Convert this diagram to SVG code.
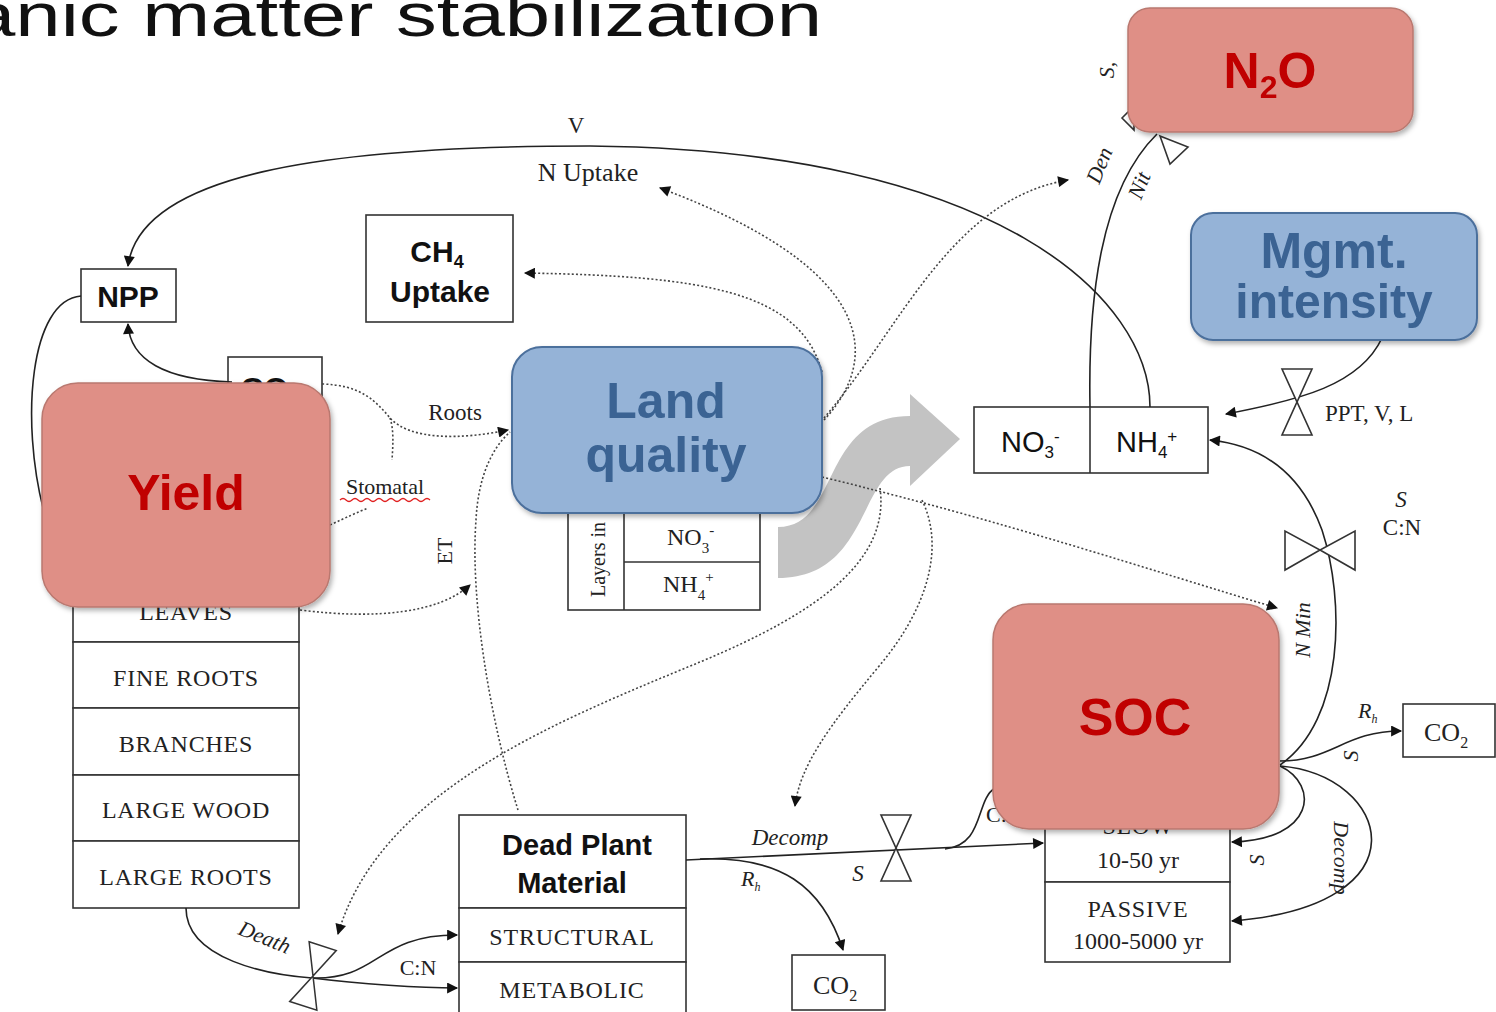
<svg xmlns="http://www.w3.org/2000/svg" width="1496" height="1012" viewBox="0 0 1496 1012">
<style>
  .box { fill: #fff; stroke: #333; stroke-width: 1.6; }
  .serif { font-family: "Liberation Serif", "DejaVu Serif", serif; fill: #222; }
  .sans { font-family: "Liberation Sans", Arial, sans-serif; fill: #111; }
  .ital { font-style: italic; }
  .cell { font-size: 24px; letter-spacing: 0.8px; text-anchor: middle; }
  .lbl { font-size: 23px; }
  .wire { fill: none; stroke: #222; stroke-width: 1.6; }
  .dot { fill: none; stroke: #444; stroke-width: 1.6; stroke-dasharray: 2 2.2; }
  .valve { fill: #fff; stroke: #333; stroke-width: 1.6; }
  .red { fill: #df8f86; stroke: #b9786f; stroke-width: 1.5; }
  .blue { fill: #95b3d7; stroke: #4c6f9c; stroke-width: 2; }
  .redtxt { font-family: "Liberation Sans", Arial, sans-serif; font-weight: bold; fill: #c00000; text-anchor: middle; }
  .bluetxt { font-family: "Liberation Sans", Arial, sans-serif; font-weight: bold; fill: #3a6393; text-anchor: middle; }
</style>
<defs>
  <marker id="ah" viewBox="0 0 10 10" refX="9" refY="5" markerWidth="15" markerHeight="11" markerUnits="userSpaceOnUse" orient="auto">
    <path d="M0,0 L10,5 L0,10 Z" fill="#111"/>
  </marker>
  <filter id="sh" x="-10%" y="-10%" width="125%" height="130%">
    <feDropShadow dx="2" dy="3" stdDeviation="2.5" flood-color="#000" flood-opacity="0.3"/>
  </filter>
  <!-- vertical bowtie flow valve -->
  <path id="valveV" d="M-15,-33 L15,-33 L0,0 Z M-15,33 L15,33 L0,0 Z"/>
</defs>

<rect width="1496" height="1012" fill="#fff"/>

<!-- heading -->
<text x="-30" y="36" class="sans" font-size="62" textLength="852" lengthAdjust="spacingAndGlyphs" fill="#000">anic matter stabilization</text>

<!-- gray curved transition arrow -->
<path d="M778,578 C872,578 858,466 910,466 L910,486 L960,439 L910,394 L910,416 C820,416 840,527 778,527 Z" fill="#c3c3c3"/>

<!-- plant compartments -->
<g id="plant-pools">
  <rect class="box" x="73" y="570" width="226" height="72"/>
  <rect class="box" x="73" y="642" width="226" height="66"/>
  <rect class="box" x="73" y="708" width="226" height="67"/>
  <rect class="box" x="73" y="775" width="226" height="66"/>
  <rect class="box" x="73" y="841" width="226" height="67"/>
  <text class="serif cell" x="186" y="620">LEAVES</text>
  <text class="serif cell" x="186" y="686">FINE ROOTS</text>
  <text class="serif cell" x="186" y="752">BRANCHES</text>
  <text class="serif cell" x="186" y="818">LARGE WOOD</text>
  <text class="serif cell" x="186" y="885">LARGE ROOTS</text>
</g>

<g id="npp">
  <rect class="box" x="81" y="269" width="95" height="53"/>
  <text class="sans" x="128" y="307" font-size="30" font-weight="bold" text-anchor="middle">NPP</text>
</g>

<g id="co2-plant">
  <rect class="box" x="228" y="357" width="94" height="73"/>
  <text class="sans" x="270" y="400" font-size="32" font-weight="bold" text-anchor="middle">CO<tspan font-size="20" dy="6">2</tspan></text>
</g>

<g id="ch4-uptake">
  <rect class="box" x="366" y="215" width="147" height="107"/>
  <text class="sans" x="437" y="262" font-size="30" font-weight="bold" text-anchor="middle">CH<tspan font-size="18" dy="6">4</tspan></text>
  <text class="sans" x="440" y="302" font-size="30" font-weight="bold" text-anchor="middle">Uptake</text>
</g>

<g id="soil-layers">
  <rect class="box" x="568" y="500" width="192" height="110"/>
  <line class="box" x1="624" y1="500" x2="624" y2="610"/>
  <line class="box" x1="624" y1="562" x2="760" y2="562"/>
  <text class="serif" x="605" y="597" font-size="20" transform="rotate(-90 605 597)">Layers in</text>
  <text class="serif" x="667" y="545" font-size="24">NO<tspan font-size="15" dy="8">3</tspan><tspan font-size="15" dy="-18">-</tspan></text>
  <text class="serif" x="663" y="592" font-size="24">NH<tspan font-size="15" dy="8">4</tspan><tspan font-size="15" dy="-18">+</tspan></text>
</g>

<g id="mineral-n">
  <rect class="box" x="974" y="407" width="234" height="66"/>
  <line class="box" x1="1090" y1="407" x2="1090" y2="473"/>
  <text class="sans" x="1001" y="452" font-size="29">NO<tspan font-size="17" dy="6">3</tspan><tspan font-size="17" dy="-16">-</tspan></text>
  <text class="sans" x="1116" y="452" font-size="29">NH<tspan font-size="17" dy="6">4</tspan><tspan font-size="17" dy="-16">+</tspan></text>
</g>

<g id="dead-plant">
  <rect class="box" x="459" y="815" width="227" height="93"/>
  <rect class="box" x="459" y="908" width="227" height="54"/>
  <rect class="box" x="459" y="962" width="227" height="56"/>
  <text class="sans" x="577" y="855" font-size="29" font-weight="bold" text-anchor="middle">Dead Plant</text>
  <text class="sans" x="572" y="893" font-size="29" font-weight="bold" text-anchor="middle">Material</text>
  <text class="serif cell" x="572" y="945">STRUCTURAL</text>
  <text class="serif cell" x="572" y="998">METABOLIC</text>
</g>

<g id="co2-litter">
  <rect class="box" x="792" y="955" width="93" height="55"/>
  <text class="serif" x="813" y="994" font-size="26">CO<tspan font-size="16" dy="7">2</tspan></text>
</g>

<g id="soil-pools">
  <rect class="box" x="1045" y="790" width="185" height="92"/>
  <rect class="box" x="1045" y="882" width="185" height="80"/>
  <text class="serif cell" x="1138" y="834">SLOW</text>
  <text class="serif" x="1138" y="868" font-size="24" text-anchor="middle">10-50 yr</text>
  <text class="serif cell" x="1138" y="917">PASSIVE</text>
  <text class="serif" x="1138" y="949" font-size="24" text-anchor="middle">1000-5000 yr</text>
</g>

<g id="co2-soil">
  <rect class="box" x="1403" y="704" width="92" height="53"/>
  <text class="serif" x="1424" y="741" font-size="26">CO<tspan font-size="16" dy="7">2</tspan></text>
</g>

<!-- flows and influences -->
<g id="connectors">
  <!-- N uptake arc to NPP -->
  <path class="wire" d="M1150,407 C1150,300 1000,150 590,146 C320,146 140,175 128,266" marker-end="url(#ah)"/>
  <!-- plant flows -->
  <path class="wire" d="M232,382 C165,380 130,360 128,324" marker-end="url(#ah)"/>
  <path class="wire" d="M81,296 C30,300 20,420 44,512"/>
  <!-- nitrification / denitrification to N2O -->
  <path class="wire" d="M1090,407 C1088,300 1100,190 1157,134"/>
  <path class="valve" d="M1160,136 L1188,147 L1170,164 Z"/>
  <path class="valve" d="M1122,118 L1134,106 L1134,130 Z"/>
  <!-- management inputs -->
  <path class="wire" d="M1382,338 C1360,385 1300,400 1226,414" marker-end="url(#ah)"/>
  <use href="#valveV" class="valve" transform="translate(1297,402)"/>
  <!-- N mineralisation from SOC -->
  <path class="wire" d="M1280,765 C1345,720 1345,600 1322,530 C1300,470 1260,445 1210,440" marker-end="url(#ah)"/>
  <path class="valve" d="M1285,531 L1285,570 L1320,550 Z M1355,531 L1355,570 L1320,550 Z"/>
  <!-- heterotrophic respiration from SOC -->
  <path class="wire" d="M1280,761 C1332,761 1345,731 1401,731" marker-end="url(#ah)"/>
  <path class="wire" d="M1280,766 C1320,785 1315,840 1232,842" marker-end="url(#ah)"/>
  <path class="wire" d="M1280,766 C1390,775 1430,905 1232,921" marker-end="url(#ah)"/>
  <!-- litter decomposition -->
  <path class="wire" d="M686,860 L1043,843" marker-end="url(#ah)"/>
  <path class="wire" d="M945,849 C985,845 975,800 995,788"/>
  <use href="#valveV" class="valve" transform="translate(896,848)"/>
  <path class="wire" d="M700,859 C780,856 822,885 843,950" marker-end="url(#ah)"/>
  <!-- plant death to litter -->
  <path class="wire" d="M186,908 C186,960 270,975 312,978"/>
  <path class="wire" d="M312,978 C380,980 375,935 457,935" marker-end="url(#ah)"/>
  <path class="wire" d="M312,978 C360,984 420,988 457,988" marker-end="url(#ah)"/>
  <use href="#valveV" class="valve" transform="translate(313,976) rotate(18) scale(0.95)"/>

  <!-- dotted influences -->
  <path class="dot" d="M322,384 C360,385 375,400 390,418 C410,440 460,440 508,430" marker-end="url(#ah)"/>
  <path class="dot" d="M390,418 C394,430 393,445 392,460"/>
  <path class="dot" d="M330,525 C345,518 358,512 368,508"/>
  <path class="dot" d="M300,610 C380,620 440,612 470,585" marker-end="url(#ah)"/>
  <path class="dot" d="M518,810 C490,720 470,600 476,520 C478,480 490,450 510,432"/>
  <path class="dot" d="M822,372 C800,290 700,276 525,273" marker-end="url(#ah)"/>
  <path class="dot" d="M824,420 C880,360 880,270 660,188" marker-end="url(#ah)"/>
  <path class="dot" d="M824,418 C900,330 950,200 1068,180" marker-end="url(#ah)"/>
  <path class="dot" d="M822,477 C1000,520 1150,570 1277,608" marker-end="url(#ah)"/>
  <path class="dot" d="M880,488 C890,560 820,612 700,662 C560,720 380,790 338,934" marker-end="url(#ah)"/>
  <path class="dot" d="M922,500 C944,545 930,605 880,665 C830,725 800,765 795,806" marker-end="url(#ah)"/>
</g>

<!-- flow labels -->
<g id="labels">
  <text class="serif lbl" x="576" y="133" text-anchor="middle">V</text>
  <text class="serif" x="588" y="181" font-size="26" text-anchor="middle">N Uptake</text>
  <text class="serif lbl" x="455" y="420" text-anchor="middle">Roots</text>
  <text class="serif" x="385" y="494" font-size="22" text-anchor="middle">Stomatal</text>
  <path d="M340,500 q3,-3 6,0 t6,0 t6,0 t6,0 t6,0 t6,0 t6,0 t6,0 t6,0 t6,0 t6,0 t6,0 t6,0 t6,0 t6,0" fill="none" stroke="#e02020" stroke-width="1.2"/>
  <text class="serif" x="452" y="551" font-size="22" text-anchor="middle" transform="rotate(-90 452 551)">ET</text>
  <text class="serif ital" x="1106" y="168" font-size="22" text-anchor="middle" transform="rotate(-68 1106 168)">Den</text>
  <text class="serif ital" x="1146" y="188" font-size="22" text-anchor="middle" transform="rotate(-68 1146 188)">Nit</text>
  <text class="serif ital" x="1114" y="70" font-size="22" text-anchor="middle" transform="rotate(-90 1114 70)">S,</text>
  <text class="serif lbl" x="1325" y="421">PPT, V, L</text>
  <text class="serif ital lbl" x="1401" y="507" text-anchor="middle">S</text>
  <text class="serif lbl" x="1402" y="535" text-anchor="middle">C:N</text>
  <text class="serif ital" x="1310" y="630" font-size="22" text-anchor="middle" transform="rotate(-90 1310 630)">N Min</text>
  <text class="serif ital" x="1358" y="718" font-size="22">R<tspan font-size="12" dy="5">h</tspan></text>
  <text class="serif ital" x="1358" y="756" font-size="22" text-anchor="middle" transform="rotate(-90 1358 756)">S</text>
  <text class="serif ital" x="1264" y="860" font-size="22" text-anchor="middle" transform="rotate(-90 1264 860)">S</text>
  <text class="serif ital" x="1334" y="858" font-size="22" text-anchor="middle" transform="rotate(90 1334 858)">Decomp</text>
  <text class="serif ital" x="790" y="845" font-size="23" text-anchor="middle">Decomp</text>
  <text class="serif ital" x="858" y="881" font-size="23" text-anchor="middle">S</text>
  <text class="serif ital" x="741" y="886" font-size="22">R<tspan font-size="12" dy="5">h</tspan></text>
  <text class="serif" x="986" y="822" font-size="22">C:N</text>
  <text class="serif ital" x="262" y="944" font-size="22" text-anchor="middle" transform="rotate(22 262 944)">Death</text>
  <text class="serif" x="418" y="975" font-size="22" text-anchor="middle">C:N</text>
</g>

<!-- highlighted drivers and outcomes -->
<g id="n2o" filter="url(#sh)">
  <rect class="red" x="1128" y="8" width="285" height="124" rx="22"/>
  <text class="redtxt" x="1270" y="88" font-size="50">N<tspan font-size="32" dy="10">2</tspan><tspan dy="-10">O</tspan></text>
</g>
<g id="mgmt-intensity" filter="url(#sh)">
  <rect class="blue" x="1191" y="213" width="286" height="127" rx="22"/>
  <text class="bluetxt" x="1334" y="268" font-size="50">Mgmt.</text>
  <text class="bluetxt" x="1334" y="318" font-size="48">intensity</text>
</g>
<g id="land-quality" filter="url(#sh)">
  <rect class="blue" x="512" y="347" width="310" height="166" rx="30"/>
  <text class="bluetxt" x="666" y="418" font-size="50">Land</text>
  <text class="bluetxt" x="666" y="472" font-size="50">quality</text>
</g>
<g id="yield" filter="url(#sh)">
  <rect class="red" x="42" y="383" width="288" height="224" rx="36"/>
  <text class="redtxt" x="186" y="510" font-size="50">Yield</text>
</g>
<g id="soc" filter="url(#sh)">
  <rect class="red" x="993" y="604" width="286" height="225" rx="36"/>
  <text class="redtxt" x="1135" y="735" font-size="52">SOC</text>
</g>
</svg>
